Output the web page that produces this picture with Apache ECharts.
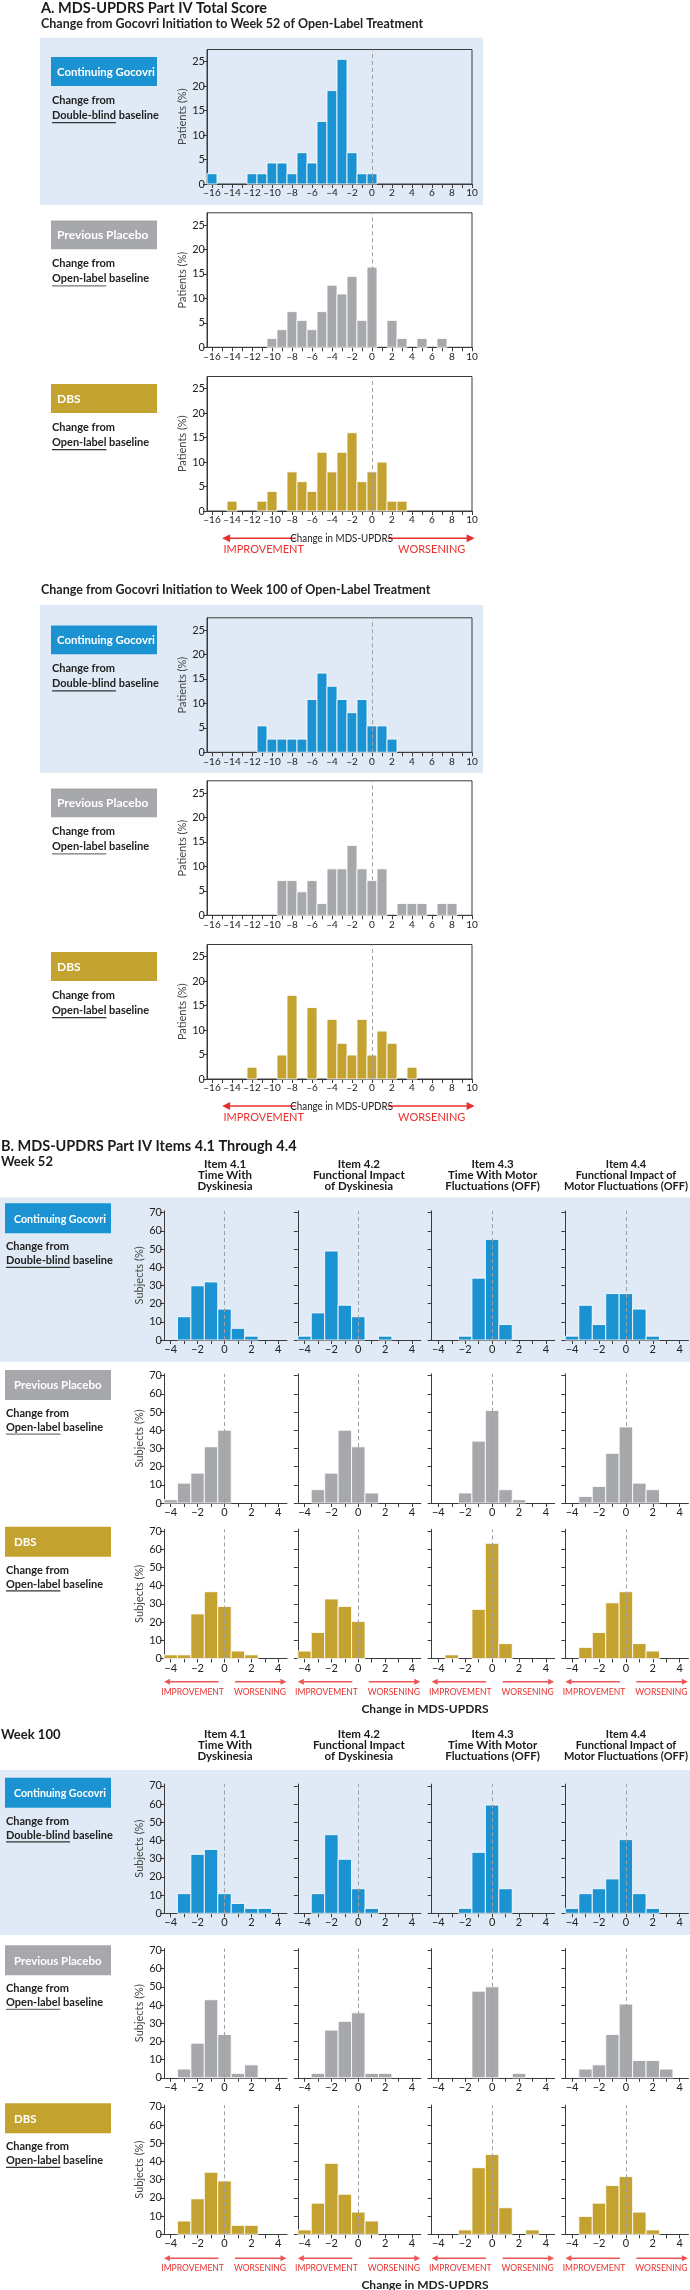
<!DOCTYPE html>
<html><head><meta charset="utf-8">
<script src="https://cdn.jsdelivr.net/npm/echarts@6/dist/echarts.min.js"></script>
<style>html,body{margin:0;padding:0;background:#fff}#c{width:690px;height:2290px}</style>
</head><body><div id="c"></div>
<script>
// ---------------- DATA ----------------
const changeA = [-16,-15,-14,-13,-12,-11,-10,-9,-8,-7,-6,-5,-4,-3,-2,-1,0,1,2,3,4,5,6,7,8,9,10];
const tickLabelsA = [-16,-14,-12,-10,-8,-6,-4,-2,0,2,4,6,8,10];
const yTicksA = [0,5,10,15,20,25];
// Part A: % patients per change value (x = -16 .. 10)
const w52TotalContinuing = [2.1,0,0,0,2.1,2.1,4.3,4.3,2.1,6.4,4.3,12.8,19.1,25.5,6.4,2.1,2.1,0,0,0,0,0,0,0,0,0,0];
const w52TotalPlacebo    = [0,0,0,0,0,0,1.8,3.6,7.3,5.5,3.6,7.3,12.7,10.9,14.5,5.5,16.4,0,5.5,1.8,0,1.8,0,1.8,0,0,0];
const w52TotalDBS        = [0,0,2,0,0,2,4,0,8,6,4,12,8,12,16,6,8,10,2,2,0,0,0,0,0,0,0];
const w100TotalContinuing= [0,0,0,0,0,5.4,2.7,2.7,2.7,2.7,10.8,16.2,13.5,10.8,8.1,10.8,5.4,5.4,2.7,0,0,0,0,0,0,0,0];
const w100TotalPlacebo   = [0,0,0,0,0,0,0,7.1,7.1,4.8,7.1,2.4,9.5,9.5,14.3,9.5,7.1,9.5,0,2.4,2.4,2.4,0,2.4,2.4,0,0];
const w100TotalDBS       = [0,0,0,0,2.4,0,0,4.9,17.1,0,14.6,0,12.2,7.3,4.9,12.2,4.9,9.8,7.3,0,2.4,0,0,0,0,0,0];

const changeB = [-4,-3,-2,-1,0,1,2,3,4];
const tickLabelsB = [-4,-2,0,2,4];
const yTicksB = [0,10,20,30,40,50,60,70];
const itemTitles = [
  ['Item 4.1','Time With','Dyskinesia'],
  ['Item 4.2','Functional Impact','of Dyskinesia'],
  ['Item 4.3','Time With Motor','Fluctuations (OFF)'],
  ['Item 4.4','Functional Impact of','Motor Fluctuations (OFF)']
];
// Part B: % subjects per change value (x = -4 .. 4), items 4.1..4.4
const w52ItemsContinuing = [
  [0,12.8,29.8,31.9,17.0,6.4,2.1,0,0],
  [2.1,14.9,48.9,19.1,12.8,0,2.1,0,0],
  [0,0,2.1,34.0,55.3,8.5,0,0,0],
  [2.1,19.1,8.5,25.5,25.5,17.0,2.1,0,0]
];
const w52ItemsPlacebo = [
  [1.8,10.9,16.4,30.9,40.0,0,0,0,0],
  [0,7.3,16.4,40.0,30.9,5.5,0,0,0],
  [0,0,5.5,34.0,50.9,7.3,1.8,0,0],
  [0,3.6,9.1,27.3,41.8,10.9,7.3,0,0]
];
const w52ItemsDBS = [
  [2.0,2.0,24.5,36.7,28.6,4.1,2.0,0,0],
  [4.1,14.3,32.7,28.6,20.4,0,0,0,0],
  [0,2.0,0,27.0,63.3,8.2,0,0,0],
  [0,6.1,14.3,30.6,36.7,8.2,4.1,0,0]
];
const w100ItemsContinuing = [
  [0,10.8,32.4,35.1,10.8,5.4,2.7,2.7,0],
  [0,10.8,43.2,29.7,13.5,2.7,0,0,0],
  [0,0,2.7,33.5,59.5,13.5,0,0,0],
  [2.7,10.8,13.5,18.9,40.5,10.8,2.7,0,0]
];
const w100ItemsPlacebo = [
  [0,4.8,19.0,42.9,23.8,2.4,7.1,0,0],
  [0,2.4,26.2,31.0,35.7,2.4,2.4,0,0],
  [0,0,0,47.6,50.0,0,2.4,0,0],
  [0,4.8,7.1,23.8,40.5,9.5,9.5,4.8,0]
];
const w100ItemsDBS = [
  [0,7.3,19.5,34.1,29.3,4.9,4.9,0,0],
  [2.4,17.1,39.0,22.0,12.2,7.3,0,0,0],
  [0,0,2.4,36.6,43.9,14.6,0,2.4,0],
  [0,9.8,17.1,26.8,31.7,12.2,2.4,0,0]
];
const groups = ['Continuing Gocovri','Previous Placebo','DBS'];
const baselines = ['Double-blind','Open-label','Open-label'];

// ---------------- STYLE ----------------
const F = "Lato,'Open Sans',sans-serif";
const groupColors = ['#1b93d2','#a6a8ab','#c4a22f'];
const BG = '#dfeaf6';
const RED = '#e8312f';
const AX = '#3a3a3a';

const grids=[], xAxis=[], yAxis=[], series=[], graphic=[];
const mctx = document.createElement('canvas').getContext('2d');
function tw(t, size, weight){ mctx.font = (weight||'normal')+' '+size+'px '+F; return mctx.measureText(t).width; }
const minusA = v => String(v).replace('-', '\u2013');
const minusB = v => String(v).replace('-', '\u2212');

function text(t, x, y, size, weight, fill, align, sx){
  graphic.push({type:'text', z:5, x:x, y:y, scaleX:(sx||1), style:{text:t, x:0, y:0, fontSize:size, fontWeight:weight, fontFamily:F,
    fill:fill, align:align||'left', textAlign:align||'left', verticalAlign:'middle', textVerticalAlign:'middle'}});
}
function rect(x,y,w,h,fill,z){ graphic.push({type:'rect', z:z, shape:{x:x,y:y,width:w,height:h}, style:{fill:fill}}); }
function hline(x1,x2,y,color,lw){ graphic.push({type:'line', z:5, shape:{x1:x1,y1:y,x2:x2,y2:y}, style:{stroke:color,lineWidth:lw}}); }
function arrow(x1,x2,y,color,headLeft,lw,hl,hw){
  if(headLeft){
    hline(x1+hl-1,x2,y,color,lw);
    graphic.push({type:'polygon', z:5, shape:{points:[[x1,y],[x1+hl,y-hw],[x1+hl,y+hw]]}, style:{fill:color}});
  } else {
    hline(x1,x2-hl+1,y,color,lw);
    graphic.push({type:'polygon', z:5, shape:{points:[[x2,y],[x2-hl,y-hw],[x2-hl,y+hw]]}, style:{fill:color}});
  }
}
function barRenderer(color){
  return function(params, api){
    const v = api.value(1);
    if (!(v > 0)) return null;
    const x = api.value(0);
    const a = api.coord([x-0.5, v]);
    const b = api.coord([x+0.5, 0]);
    return {type:'rect', shape:{x:a[0], y:a[1], width:b[0]-a[0], height:b[1]-a[1]},
      style:{fill:color, stroke:'rgba(255,255,255,0.85)', lineWidth:1}};
  };
}
function addPlot(o){
  const g = grids.length;
  grids.push({left:o.left, top:o.top, width:o.width, height:o.height, show:!!o.border,
    borderColor:AX, borderWidth:1, backgroundColor:'transparent', containLabel:false, outerBoundsMode:'none'});
  xAxis.push({type:'value', gridIndex:g, min:o.xmin, max:o.xmax,
    axisLine:{show:true, onZero:false, lineStyle:{color:AX, width:1}},
    axisTick:{show:true, customValues:o.xs, length:4, lineStyle:{color:AX}},
    axisLabel:{show:true, customValues:o.xlabels, formatter:o.fmt, fontSize:o.xfs, color:'#222', margin:4, fontFamily:F},
    splitLine:{show:false}, minorTick:{show:false}});
  yAxis.push({type:'value', gridIndex:g, min:0, max:o.ymax,
    axisLine:{show:true, onZero:false, lineStyle:{color:AX, width:1}},
    axisTick:{show:true, customValues:o.yticks, length:4, lineStyle:{color:AX}},
    axisLabel:{show:o.showY, customValues:o.yticks, fontSize:11, color:'#222', margin:2, fontFamily:F},
    splitLine:{show:false},
    name:o.showY?o.yname:'', nameLocation:'middle', nameGap:o.nameGap,
    nameTextStyle:{fontSize:11, color:'#444', fontFamily:F}});
  series.push({type:'custom', xAxisIndex:g, yAxisIndex:g, silent:true, clip:false,
    data:o.xs.map((x,i)=>[x, o.vals[i]]), renderItem:barRenderer(o.color),
    markLine:{silent:true, symbol:['none','none'], label:{show:false}, animation:false,
      lineStyle:{type:[4,3], color:'#a0a0a0', width:1}, data:[{xAxis:0}]}});
}
function groupLabel(gi, x, top, w, h, fs, pad, lx, fs2, l1, l2, ul){
  rect(x, top, w, h, groupColors[gi], 1);
  const sx = Math.min(1, (w - 2*pad + 4) / tw(groups[gi], fs, 'bold'));
  text(groups[gi], x+pad, top+h/2+0.5, fs, 'bold', '#fff', 'left', sx);
  text('Change from', lx, top+l1, fs2, 'bold', '#222', 'left');
  text(baselines[gi]+' baseline', lx, top+l2, fs2, 'bold', '#222', 'left');
  hline(lx, lx+tw(baselines[gi], fs2, 'bold'), top+l2+ul, gi===1?'#777':'#333', 1.2);
}

// ---------------- PART A ----------------
text('A. MDS-UPDRS Part IV Total Score', 41, 8, 14.5, 'bold', '#1a1a1a');
text('Change from Gocovri Initiation to Week 52 of Open-Label Treatment', 41, 24, 12.5, 'bold', '#222');
text('Change from Gocovri Initiation to Week 100 of Open-Label Treatment', 41, 590, 12.5, 'bold', '#222');
rect(40, 37.7, 443, 167.3, BG, -10);
rect(40, 605, 443, 167.7, BG, -10);

const A_LEFT = 207, A_W = 265, A_H = 134.5;
const panelsA = [
  {vals:w52TotalContinuing, gi:0, bottom:184},
  {vals:w52TotalPlacebo, gi:1, bottom:347.3},
  {vals:w52TotalDBS, gi:2, bottom:511},
  {vals:w100TotalContinuing, gi:0, bottom:752.3},
  {vals:w100TotalPlacebo, gi:1, bottom:915.3},
  {vals:w100TotalDBS, gi:2, bottom:1079}
];
panelsA.forEach(p=>{
  const top = p.bottom - A_H;
  addPlot({left:A_LEFT, top:top, width:A_W, height:A_H, border:true, xmin:-16.5, xmax:10, xs:changeA,
    xlabels:tickLabelsA, ymax:27.5, yticks:yTicksA, showY:true, yname:'Patients (%)', nameGap:17,
    xfs:10, fmt:minusA, vals:p.vals, color:groupColors[p.gi]});
  groupLabel(p.gi, 51, top+7.6, 106, 28.8, 12, 6, 52, 11, 43, 58, 7.5);
});
const fx = f => A_LEFT + f*A_W;
[538.3, 1106].forEach(y=>{
  arrow(fx(0.057), fx(0.335), y, RED, true, 1.6, 8, 4);
  arrow(fx(0.682), fx(1.01), y, RED, false, 1.6, 8, 4);
  text('Change in MDS-UPDRS', fx(0.508), y, 11.5, 'normal', '#222', 'center', 0.85);
  text('IMPROVEMENT', fx(0.214), y+11.5, 11, 'normal', RED, 'center');
  text('WORSENING', fx(0.848), y+11.5, 11, 'normal', RED, 'center');
});

// ---------------- PART B ----------------
text('B. MDS-UPDRS Part IV Items 4.1 Through 4.4', 1, 1146.7, 14.5, 'bold', '#1a1a1a');
text('Week 52', 1, 1161.5, 13, 'bold', '#1a1a1a');
text('Week 100', 1, 1735, 13, 'bold', '#1a1a1a');
rect(0, 1197.3, 690, 164.4, BG, -10);
rect(0, 1770, 690, 165, BG, -10);

const B_LEFTS = [164, 297.8, 431.6, 565.4], B_W = 123, B_H = 129.2;
const HF = 11.5;
[1164, 1734.3].forEach(y0=>{
  itemTitles.forEach((lines, c)=>{
    const wmax = Math.max(...lines.map(l=>tw(l, HF, 'bold')));
    const sx = Math.min(1, 124 / wmax);
    const w = wmax*sx;
    const cx = Math.min(B_LEFTS[c]+61, 688 - w/2);
    lines.forEach((ln, k)=> text(ln, cx, y0+k*11.2, HF, 'bold', '#1a1a1a', 'center', sx));
  });
});
const rowsB = [
  {data:w52ItemsContinuing, gi:0, bottom:1340, box:1203.3},
  {data:w52ItemsPlacebo, gi:1, bottom:1503, box:1370},
  {data:w52ItemsDBS, gi:2, bottom:1658.5, box:1526.7},
  {data:w100ItemsContinuing, gi:0, bottom:1913.3, box:1777.7},
  {data:w100ItemsPlacebo, gi:1, bottom:2077.8, box:1945.3},
  {data:w100ItemsDBS, gi:2, bottom:2234.3, box:2103.3}
];
rowsB.forEach(r=>{
  r.data.forEach((vals, c)=>{
    addPlot({left:B_LEFTS[c], top:r.bottom-B_H, width:B_W, height:B_H, border:false, xmin:-4.5, xmax:4.65,
      xs:changeB, xlabels:tickLabelsB, ymax:71, yticks:yTicksB, showY:c===0, yname:'Subjects (%)', nameGap:19,
      xfs:11, fmt:minusB, vals:vals, color:groupColors[r.gi]});
  });
  groupLabel(r.gi, 5, r.box, 106, 30, 11.5, 9, 6, 11, 43.5, 57.6, 6.5);
});
[1681.7, 2258.3].forEach(y=>{
  B_LEFTS.forEach(L=>{
    arrow(L, L+54.5, y, '#ee5555', true, 1.6, 6, 3);
    arrow(L+71, L+122.5, y, '#ee5555', false, 1.6, 6, 3);
    text('IMPROVEMENT', L+28.6, y+10, 9.5, 'normal', RED, 'center', 0.9);
    text('WORSENING', L+96, y+10, 9.5, 'normal', RED, 'center', 0.9);
  });
  text('Change in MDS-UPDRS', 425, y+27, 12, 'bold', '#222', 'center');
});

const chart = echarts.init(document.getElementById('c'), null, {renderer:'canvas'});
chart.setOption({animation:false, textStyle:{fontFamily:F}, grid:grids, xAxis:xAxis, yAxis:yAxis, series:series, graphic:{elements:graphic}});
</script></body></html>
